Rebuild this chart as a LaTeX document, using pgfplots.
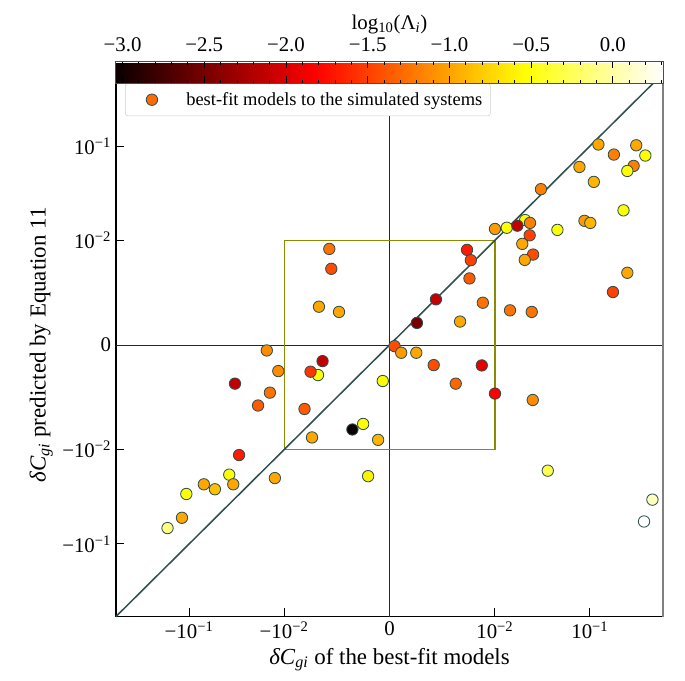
\documentclass[border=0pt]{standalone}
\usepackage{pgfplots}
\pgfplotsset{compat=1.18}
\usepackage{fontspec}
\setmainfont{Liberation Serif}
\definecolor{dslate}{HTML}{2F4F4F}
\definecolor{boxolive}{HTML}{8B8B00}
\definecolor{legorange}{rgb}{1,0.42,0}
\pgfplotsset{
  colormap={hot}{rgb(0cm)=(0.0416,0,0) rgb(3.65cm)=(1,0,0) rgb(7.46cm)=(1,1,0) rgb(10cm)=(1,1,1)},
}
\pgfplotstableread{
x y c
0.123 0.104 -0.99
0.308 0.102 -0.99
0.179 0.0813 -1.18
0.384 0.0794 -0.54
0.289 0.0616 -1.18
0.248 0.0545 -0.54
0.0776 0.0601 -0.99
0.110 0.0417 -0.92
0.0305 0.0349 -1.18
0.226 0.0208 -0.54
0.0100 0.0132 -1.05
0.0133 0.0136 -0.54
0.0208 0.0164 -0.54
0.0172 0.0143 -2.12
0.0234 0.0153 -1.18
0.0232 0.0113 -1.50
0.0194 0.00966 -0.99
0.0455 0.0129 -0.54
0.0877 0.0161 -1.05
0.101 0.0153 -0.92
0.0252 0.00864 -1.44
0.0206 0.00813 -0.99
0.00735 0.00909 -1.69
0.00771 0.00810 -1.50
0.00758 0.00636 -1.37
0.248 0.00690 -0.99
0.175 0.00506 -1.50
0.00440 0.00436 -2.12
0.00885 0.00404 -1.25
0.0144 0.00331 -1.25
0.0244 0.00316 -1.25
0.00260 0.00211 -2.49
0.00669 0.00224 -0.99
0.00048 -0.00011 -1.44
0.00111 -0.00074 -1.05
0.00254 -0.00074 -0.99
0.00419 -0.00192 -1.44
0.00875 -0.00195 -1.94
0.00628 -0.00369 -1.31
0.0100 -0.00464 -1.82
0.0250 -0.00525 -1.12
0.0360 -0.0167 -0.29
0.456 -0.0339 0.09
0.372 -0.0578 0.307
-0.00571 0.00918 -1.25
-0.00552 0.00728 -1.44
-0.00669 0.00366 -0.99
-0.00479 0.00316 -0.99
-0.0152 -0.00052 -1.12
-0.00635 -0.00154 -2.12
-0.0115 -0.00249 -1.12
-0.00678 -0.00287 -0.54
-0.00749 -0.00255 -1.56
-0.0329 -0.00369 -2.12
-0.00064 -0.00344 -0.54
-0.0141 -0.00455 -1.25
-0.0188 -0.00578 -1.37
-0.00806 -0.00611 -1.37
-0.00352 -0.00807 -3.04
-0.00250 -0.00754 -0.54
-0.00735 -0.00883 -0.99
-0.00108 -0.00906 -0.92
-0.0298 -0.0114 -1.69
-0.0378 -0.0184 -0.54
-0.0125 -0.0200 -0.99
-0.00203 -0.0191 -0.60
-0.0700 -0.0233 -0.99
-0.0343 -0.0233 -0.99
-0.0535 -0.0263 -0.86
-0.107 -0.0295 -0.54
-0.119 -0.0528 -0.99
-0.169 -0.0679 -0.12
}\pts
\begin{document}
\begin{tikzpicture}
\begin{axis}[
  name=main,
  scale only axis, width=393.84pt, height=390.96pt,
  x coord trafo/.code={\pgfmathparse{(abs(#1)<=0.01) ? (#1*111.111) : ((#1<0 ? -1 : 1)*(1.11111+ln(max(abs(#1),0.01)/0.01)/2.302585))}},
  y coord trafo/.code={\pgfmathparse{(abs(#1)<=0.01) ? (#1*111.111) : ((#1<0 ? -1 : 1)*(1.11111+ln(max(abs(#1),0.01)/0.01)/2.302585))}},
  xmin=-0.59, xmax=0.59, ymin=-0.59, ymax=0.59,
  axis x line*=bottom, axis y line*=left,
  axis line style={black, line width=0.8pt},
  xtick={-0.1,-0.01,0,0.01,0.1},
  xticklabels={−10\textsuperscript{−1},−10\textsuperscript{−2},0,10\textsuperscript{−2},10\textsuperscript{−1}},
  ytick={-0.1,-0.01,0,0.01,0.1},
  yticklabels={−10\textsuperscript{−1},−10\textsuperscript{−2},0,10\textsuperscript{−2},10\textsuperscript{−1}},
  tick align=inside, major tick length=5.8pt,
  tick style={black, line width=0.7pt},
  ticklabel style={font=\fontsize{15}{17}\selectfont},
  label style={font=\fontsize{16.5}{19}\selectfont},
  xlabel={\textit{δC}\textsubscript{\textit{gi}} of the best-fit models},
  ylabel={\textit{δC}\textsubscript{\textit{gi}} predicted by Equation 11},
  colormap name=hot, point meta min=-3.04, point meta max=0.307,
  colorbar horizontal,
  colorbar style={
    at={(parent axis.north west)}, anchor=south west, yshift=1.44pt,
    scale only axis, width=393.84pt, height=15.84pt,
    xticklabel pos=upper,
    xtick={-3,-2.5,-2,-1.5,-1,-0.5,0},
    xticklabels={−3.0,−2.5,−2.0,−1.5,−1.0,−0.5,0.0},
    minor xtick={-2.9,-2.8,-2.7,-2.6,-2.4,-2.3,-2.2,-2.1,-1.9,-1.8,-1.7,-1.6,-1.4,-1.3,-1.2,-1.1,-0.9,-0.8,-0.7,-0.6,-0.4,-0.3,-0.2,-0.1,0.1,0.2,0.3},
    tick align=inside, major tick length=5pt, minor tick length=2.6pt,
    tick style={black, line width=0.6pt},
    axis line style={black!70, line width=0.7pt},
    ticklabel style={font=\fontsize{15}{17}\selectfont},
    xticklabel style={yshift=3.4pt},
    xlabel={log\textsubscript{10}(Λ\textsubscript{\textit{i}})},
    xlabel style={font=\fontsize{15}{17}\selectfont, yshift=-4.4pt},
  },
  clip=false,
  legend style={at={(0.0165,0.982)}, anchor=north west, draw=black!18, rounded corners=2pt,
    font=\fontsize{13.3}{15}\selectfont, inner xsep=3.8pt, inner ysep=0pt,
    nodes={inner sep=2pt}},
  legend cell align=left,
]
\addplot[black!85, line width=0.6pt, forget plot] coordinates {(0,-0.59) (0,0.59)};
\addplot[black!85, line width=0.6pt, forget plot] coordinates {(-0.59,0) (0.59,0)};
\addplot[boxolive, line width=0.8pt, forget plot] coordinates {(-0.01,-0.01) (0.01,-0.01) (0.01,0.01) (-0.01,0.01) (-0.01,-0.01)};
\addplot[dslate, line width=1.1pt, forget plot] coordinates {(-0.59,-0.59) (0.59,0.59)};
\addplot[scatter, only marks, mark=*, mark size=4.1pt,
  scatter/use mapped color={draw=dslate, fill=mapped color, line width=0.6pt},
  point meta=explicit, forget plot] table[x=x, y=y, meta=c] {\pts};
\addlegendimage{legend image code/.code={\path[draw=none, fill=none] (-15.4pt,-11.65pt) rectangle (22.7pt,11.65pt); \filldraw[draw=dslate, line width=0.6pt, fill=legorange] (0pt,0pt) circle (4.1pt);}}
\addlegendentry{best-fit models to the simulated systems}
\draw[gray, line width=1.2pt] (rel axis cs:0,1) -- (rel axis cs:1,1) -- (rel axis cs:1,0);
\coordinate (BL) at ([xshift=-83.5pt, yshift=-46.1pt]rel axis cs:0,0);
\coordinate (TR) at ([xshift=15.8pt, yshift=52.9pt]rel axis cs:1,1);
\end{axis}
\pgfresetboundingbox
\useasboundingbox (BL) rectangle (TR);
\end{tikzpicture}
\end{document}
